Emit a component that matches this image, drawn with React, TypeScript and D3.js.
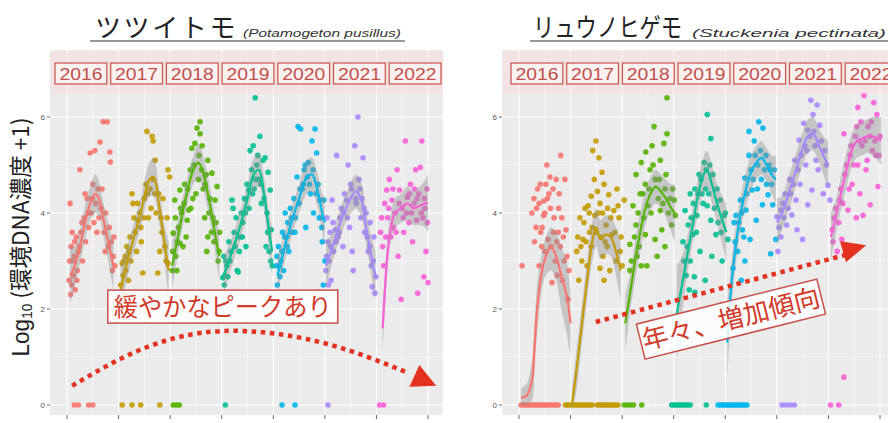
import React from 'react';
import * as d3 from 'd3';

const W = 888;
const H = 423;

const YEARS = [2016, 2017, 2018, 2019, 2020, 2021, 2022];
const YEAR_COLORS = ['#F8766D', '#C49A00', '#53B400', '#00C094', '#00B6EB', '#A58AFF', '#FB61D7'];
const X_TICKS = [2016, 2017, 2018, 2019, 2020, 2021, 2022, 2023];
const X_MINOR = [2016.5, 2017.5, 2018.5, 2019.5, 2020.5, 2021.5, 2022.5];
const Y_TICKS = [0, 2, 4, 6];
const Y_MINOR = [1, 3, 5, 7];

const TSU_TITLE = 'ツツイトモ';
const TSU_LATIN = '(Potamogeton pusillus)';
const RYU_TITLE = 'リュウノヒゲモ';
const RYU_LATIN = '(Stuckenia pectinata)';
const TSU_NOTE = '緩やかなピークあり';
const RYU_NOTE = '年々、増加傾向';

// [fraction of year, log10 value]
const tsuPoints = [
  [[0.04,2.6],[0.05,3.0],[0.06,4.2],[0.08,3.3],[0.09,2.5],[0.1,3.6],[0.12,2.7],[0.14,3.1],[0.16,2.4],[0.18,3.5],[0.2,2.8],[0.22,3.2],[0.25,4.9],[0.27,3.6],[0.3,3.0],[0.33,3.9],[0.36,3.4],[0.39,4.3],[0.42,3.7],[0.45,5.25],[0.47,4.0],[0.5,4.6],[0.52,3.8],[0.54,5.3],[0.56,4.2],[0.6,4.5],[0.62,3.9],[0.64,5.48],[0.66,4.1],[0.7,5.9],[0.72,3.6],[0.75,4.0],[0.78,5.9],[0.8,3.3],[0.83,5.27],[0.84,5.06],[0.86,3.4],[0.88,2.8],[0.9,3.1],[0.93,2.9],
   [0.07,2.3],[0.11,3.0],[0.15,3.4],[0.19,2.6],[0.24,3.3],[0.29,3.8],[0.35,4.4],[0.41,4.0],[0.49,4.3],[0.58,3.6],[0.68,4.5],[0.74,3.2],[0.82,3.7],[0.91,3.5]],
  [[0.04,2.5],[0.07,2.95],[0.09,2.7],[0.11,2.3],[0.13,3.1],[0.16,3.3],[0.19,2.6],[0.22,3.5],[0.26,4.4],[0.28,4.2],[0.32,3.6],[0.35,3.2],[0.38,3.85],[0.41,4.0],[0.44,3.4],[0.47,2.75],[0.5,4.3],[0.53,4.6],[0.55,5.7],[0.58,3.9],[0.61,4.5],[0.65,5.6],[0.67,5.5],[0.67,4.7],[0.71,5.1],[0.73,4.0],[0.76,2.75],[0.78,4.4],[0.8,3.2],[0.84,3.6],[0.86,4.3],[0.9,3.3],[0.94,3.9],[0.96,4.9],[0.96,2.95],[0.99,4.75],
   [0.05,2.2],[0.1,3.0],[0.14,2.8],[0.2,3.2],[0.24,3.0],[0.3,3.9],[0.37,4.2],[0.43,3.7],[0.49,3.9],[0.56,4.4],[0.63,4.1],[0.7,4.4],[0.82,3.9],[0.92,3.0]],
  [[0.04,2.8],[0.06,3.58],[0.09,4.27],[0.11,3.1],[0.13,2.8],[0.16,3.7],[0.19,4.48],[0.19,3.37],[0.22,4.0],[0.25,3.3],[0.28,4.6],[0.31,3.5],[0.33,3.85],[0.36,4.06],[0.39,4.9],[0.42,5.35],[0.44,4.3],[0.48,5.45],[0.52,5.77],[0.55,4.7],[0.58,5.9],[0.58,5.65],[0.62,5.4],[0.64,4.5],[0.67,3.9],[0.7,4.8],[0.71,3.2],[0.73,5.1],[0.73,3.5],[0.77,4.3],[0.81,4.83],[0.83,3.9],[0.85,3.4],[0.87,4.27],[0.91,4.55],[0.93,3.0],[0.96,3.6],
   [0.05,3.2],[0.1,3.9],[0.14,3.4],[0.2,4.1],[0.27,4.2],[0.34,4.5],[0.4,4.1],[0.46,5.0],[0.5,4.4],[0.56,5.2],[0.61,4.9],[0.68,4.6],[0.75,4.0],[0.8,3.6],[0.89,3.8],[0.95,3.2]],
  [[0.02,2.65],[0.04,3.1],[0.06,2.7],[0.1,2.9],[0.12,2.67],[0.14,3.4],[0.18,3.2],[0.2,4.27],[0.22,4.1],[0.24,3.6],[0.28,3.9],[0.3,2.8],[0.32,2.77],[0.35,3.5],[0.38,4.0],[0.41,3.8],[0.44,4.3],[0.47,3.3],[0.49,4.6],[0.52,4.48],[0.55,5.3],[0.58,4.9],[0.61,5.4],[0.63,4.5],[0.65,6.4],[0.68,5.0],[0.72,4.7],[0.74,5.6],[0.77,4.2],[0.8,5.1],[0.84,5.15],[0.86,3.3],[0.88,4.0],[0.9,4.85],[0.92,3.2],[0.94,4.48],[0.96,3.65],[0.98,2.9],
   [0.05,2.5],[0.08,3.0],[0.16,3.0],[0.26,3.3],[0.34,3.2],[0.4,3.5],[0.46,4.0],[0.53,4.1],[0.6,4.4],[0.66,4.7],[0.7,5.2],[0.76,4.6],[0.82,4.3],[0.89,3.6],[0.95,3.0]],
  [[0.06,2.9],[0.08,2.5],[0.1,3.3],[0.13,2.67],[0.15,3.0],[0.18,3.6],[0.2,2.8],[0.23,4.0],[0.26,3.5],[0.28,3.8],[0.3,3.2],[0.33,4.1],[0.36,3.6],[0.4,4.3],[0.43,3.9],[0.46,4.75],[0.48,5.8],[0.5,4.2],[0.53,5.75],[0.56,4.5],[0.6,4.9],[0.63,3.7],[0.66,4.75],[0.68,5.05],[0.72,4.4],[0.75,5.5],[0.78,4.0],[0.81,5.75],[0.84,5.25],[0.87,4.6],[0.9,4.27],[0.92,3.9],[0.95,3.4],[0.97,2.5],[0.98,4.27],[1.0,3.0],
   [0.07,3.1],[0.12,2.9],[0.17,3.2],[0.22,3.5],[0.27,3.3],[0.35,3.9],[0.42,3.6],[0.52,4.5],[0.58,4.6],[0.62,5.0],[0.7,4.6],[0.77,4.9],[0.83,4.4],[0.89,3.9],[0.94,3.7]],
  [[0.02,2.8],[0.04,3.9],[0.06,3.4],[0.08,3.0],[0.1,3.6],[0.12,2.6],[0.14,4.27],[0.17,3.2],[0.2,3.65],[0.23,5.2],[0.26,3.5],[0.29,3.9],[0.32,4.1],[0.35,3.3],[0.38,4.4],[0.42,4.27],[0.45,5.0],[0.48,3.7],[0.5,4.6],[0.53,3.2],[0.55,2.8],[0.58,5.4],[0.61,4.2],[0.64,6.0],[0.66,4.7],[0.7,3.9],[0.72,4.3],[0.74,5.15],[0.77,3.6],[0.8,4.0],[0.84,3.2],[0.87,3.3],[0.9,2.9],[0.92,2.46],[0.95,3.5],[0.97,2.33],[0.99,2.67],
   [0.03,3.1],[0.07,2.5],[0.11,3.3],[0.16,3.8],[0.22,3.4],[0.28,3.6],[0.36,4.0],[0.44,3.9],[0.52,4.5],[0.6,4.3],[0.68,4.5],[0.76,4.1],[0.82,3.5],[0.88,3.8],[0.94,3.0]],
  [[0.08,3.6],[0.12,3.3],[0.16,4.2],[0.2,4.48],[0.22,3.9],[0.25,4.7],[0.28,3.5],[0.3,4.27],[0.33,3.7],[0.36,4.0],[0.4,4.9],[0.42,3.1],[0.45,4.48],[0.48,2.2],[0.5,4.1],[0.53,3.6],[0.56,5.5],[0.6,4.33],[0.63,3.8],[0.66,4.6],[0.7,3.4],[0.73,4.2],[0.76,4.9],[0.78,3.85],[0.8,2.33],[0.82,4.4],[0.85,4.95],[0.88,5.5],[0.9,3.9],[0.92,2.67],[0.94,4.1],[0.96,3.2],[0.98,4.5],[1.0,2.55],
   [0.1,3.9],[0.14,2.9],[0.18,3.5],[0.24,4.1],[0.32,4.5],[0.38,3.6],[0.44,4.2],[0.52,3.9],[0.58,4.0],[0.64,4.4],[0.68,4.0],[0.74,4.5],[0.79,4.3],[0.87,4.0],[0.93,4.3],[0.99,3.8]],
];
const tsuZeros = [
  [0.14, 0.22, 0.42, 0.5],
  [0.07, 0.26, 0.43, 0.8],
  [0.06, 0.12, 0.18],
  [0.07],
  [0.17, 0.42],
  [0.06],
  [0.06, 0.14],
];
// [fraction, fit, lower, upper]
const tsuFits = [
  [[0.06,2.7,2.1,3.3],[0.15,2.9,2.5,3.3],[0.25,3.3,2.95,3.65],[0.35,3.8,3.45,4.15],[0.45,4.2,3.85,4.55],[0.55,4.4,4.0,4.8],[0.62,4.3,3.95,4.65],[0.7,3.9,3.55,4.25],[0.8,3.4,3.0,3.8],[0.9,2.9,2.4,3.4]],
  [[0.04,2.4,1.9,2.9],[0.15,2.9,2.55,3.25],[0.3,3.5,3.2,3.8],[0.45,4.1,3.8,4.4],[0.6,4.7,4.35,5.05],[0.68,4.75,4.35,5.15],[0.78,4.2,3.85,4.55],[0.9,3.3,2.9,3.7],[0.97,2.8,2.2,3.4]],
  [[0.04,2.9,2.4,3.4],[0.15,3.5,3.15,3.85],[0.3,4.3,4.0,4.6],[0.45,4.9,4.6,5.2],[0.55,5.05,4.7,5.45],[0.65,4.8,4.45,5.15],[0.75,4.3,3.95,4.65],[0.85,3.7,3.35,4.05],[0.95,3.1,2.6,3.6]],
  [[0.04,2.7,2.3,3.1],[0.2,3.2,2.9,3.5],[0.35,3.7,3.4,4.0],[0.5,4.3,4.0,4.6],[0.62,4.8,4.45,5.15],[0.72,4.9,4.55,5.25],[0.82,4.4,4.05,4.75],[0.92,3.6,3.2,4.0],[0.98,3.2,2.7,3.7]],
  [[0.08,2.7,2.3,3.1],[0.2,3.2,2.9,3.5],[0.35,3.8,3.5,4.1],[0.5,4.3,4.0,4.6],[0.65,4.75,4.4,5.1],[0.75,4.8,4.45,5.15],[0.85,4.5,4.15,4.85],[0.95,4.0,3.6,4.4],[1.0,3.8,3.3,4.3]],
  [[0.02,2.9,2.4,3.4],[0.15,3.3,3.0,3.6],[0.3,3.8,3.5,4.1],[0.45,4.2,3.9,4.5],[0.6,4.45,4.1,4.8],[0.7,4.3,3.95,4.65],[0.8,3.7,3.35,4.05],[0.9,3.1,2.7,3.5],[0.98,2.7,2.2,3.2]],
  [[0.12,1.6,1.1,2.1],[0.16,2.3,1.9,2.7],[0.21,3.1,2.75,3.45],[0.28,3.7,3.4,4.0],[0.36,4.0,3.7,4.3],[0.48,4.1,3.8,4.4],[0.6,4.2,3.85,4.55],[0.72,4.1,3.75,4.45],[0.84,4.15,3.75,4.55],[0.95,4.2,3.7,4.7],[1.0,4.2,3.6,4.8]],
];

const ryuPoints = [
  [[0.06,2.9],[0.25,4.0],[0.29,4.3],[0.33,3.7],[0.36,4.5],[0.39,4.2],[0.39,2.9],[0.42,3.6],[0.45,3.7],[0.48,4.25],[0.48,3.95],[0.5,3.2],[0.52,4.6],[0.54,5.0],[0.56,3.45],[0.58,4.4],[0.6,4.75],[0.62,3.3],[0.64,2.55],[0.66,4.5],[0.68,3.9],[0.7,3.0],[0.72,4.7],[0.74,2.7],[0.76,3.6],[0.78,4.4],[0.8,3.3],[0.81,5.2],[0.84,2.6],[0.86,3.5],[0.89,4.7],[0.91,3.65],[0.93,3.1],[0.95,2.2],[0.97,2.8],
   [0.3,3.4],[0.34,4.1],[0.41,4.6],[0.44,3.3],[0.5,4.0],[0.55,4.3],[0.61,4.1],[0.67,3.6],[0.73,3.4],[0.77,4.1],[0.83,3.9],[0.88,3.0]],
  [[0.12,3.2],[0.16,2.6],[0.18,3.9],[0.22,3.0],[0.24,3.45],[0.28,4.1],[0.32,2.9],[0.34,4.15],[0.37,3.6],[0.4,4.35],[0.4,3.3],[0.43,5.3],[0.46,4.7],[0.47,3.95],[0.49,5.5],[0.52,4.45],[0.55,5.15],[0.57,4.2],[0.57,2.85],[0.6,3.5],[0.61,4.85],[0.63,3.1],[0.65,4.6],[0.65,2.6],[0.69,3.75],[0.72,4.1],[0.74,4.38],[0.76,2.8],[0.8,3.55],[0.84,4.05],[0.88,3.0],[0.9,4.5],[0.92,4.15],[0.94,3.9],[0.96,3.2],[1.0,2.9],[1.04,4.27],
   [0.14,3.5],[0.2,3.3],[0.26,3.8],[0.3,3.4],[0.36,4.0],[0.42,3.7],[0.5,3.6],[0.54,4.0],[0.62,4.0],[0.67,3.4],[0.71,3.3],[0.78,3.9],[0.86,3.6],[0.98,3.5]],
  [[0.15,3.35],[0.15,2.8],[0.21,4.15],[0.27,4.8],[0.27,3.75],[0.29,3.1],[0.35,4.4],[0.37,5.05],[0.37,2.9],[0.45,4.6],[0.45,3.55],[0.46,5.27],[0.48,2.9],[0.5,4.15],[0.54,4.9],[0.58,5.4],[0.62,5.8],[0.64,4.7],[0.64,3.45],[0.68,3.1],[0.74,5.1],[0.74,4.05],[0.77,3.65],[0.81,5.45],[0.83,4.5],[0.83,3.3],[0.87,6.4],[0.87,5.65],[0.93,4.3],[0.96,3.75],[1.01,4.27],[1.03,3.95],
   [0.18,3.0],[0.24,3.5],[0.31,4.0],[0.33,3.3],[0.4,4.4],[0.42,3.9],[0.52,4.5],[0.56,4.0],[0.6,5.0],[0.7,4.3],[0.72,4.7],[0.79,4.2],[0.85,4.8],[0.9,4.0],[0.98,4.5]],
  [[0.18,3.4],[0.22,4.05],[0.24,2.7],[0.28,3.75],[0.3,2.4],[0.32,4.4],[0.32,3.0],[0.37,3.55],[0.4,2.67],[0.41,4.5],[0.41,2.35],[0.45,3.95],[0.49,4.8],[0.51,3.2],[0.55,4.4],[0.59,5.05],[0.61,2.6],[0.63,4.9],[0.65,6.05],[0.65,4.15],[0.72,5.55],[0.72,3.85],[0.74,3.1],[0.76,4.8],[0.82,3.55],[0.84,4.5],[0.9,4.27],[0.94,3.0],[0.98,3.95],[1.05,3.45],
   [0.2,3.0],[0.26,3.3],[0.34,3.9],[0.38,4.2],[0.44,3.6],[0.47,4.4],[0.53,4.7],[0.57,4.2],[0.62,4.5],[0.68,4.4],[0.7,5.0],[0.79,4.1],[0.86,3.8],[0.92,3.6],[1.0,4.0]],
  [[0.15,2.85],[0.17,3.8],[0.21,3.95],[0.24,3.2],[0.29,4.27],[0.31,2.6],[0.33,3.65],[0.38,4.73],[0.38,3.0],[0.4,4.06],[0.46,5.7],[0.46,5.2],[0.48,3.45],[0.52,4.48],[0.56,5.5],[0.6,3.85],[0.63,5.0],[0.65,5.9],[0.7,4.7],[0.72,4.17],[0.73,5.77],[0.79,5.2],[0.83,4.38],[0.87,4.9],[0.88,3.15],[0.92,4.17],[0.98,3.45],
   [0.19,3.4],[0.26,3.8],[0.32,4.0],[0.36,3.5],[0.42,4.4],[0.5,4.9],[0.54,4.7],[0.58,5.2],[0.62,4.5],[0.68,5.3],[0.76,4.9],[0.8,4.6],[0.85,5.0],[0.9,4.6],[0.95,4.9]],
  [[0.0,3.92],[0.02,3.2],[0.08,4.06],[0.08,3.5],[0.16,4.4],[0.19,3.75],[0.25,4.7],[0.29,3.96],[0.35,5.1],[0.37,4.27],[0.39,3.65],[0.43,5.52],[0.45,4.6],[0.5,3.45],[0.52,5.87],[0.56,5.0],[0.6,5.73],[0.6,4.17],[0.66,6.35],[0.68,4.48],[0.7,6.05],[0.74,5.4],[0.78,6.25],[0.8,4.9],[0.83,5.83],[0.9,4.4],[0.93,5.3],[0.99,4.58],[1.03,4.27],
   [0.04,3.7],[0.12,4.2],[0.14,3.9],[0.22,4.1],[0.27,4.4],[0.32,4.6],[0.41,4.9],[0.47,5.2],[0.54,5.4],[0.58,5.3],[0.64,5.6],[0.72,5.7],[0.76,5.1],[0.86,5.5],[0.96,5.0]],
  [[0.07,3.65],[0.11,3.9],[0.17,3.2],[0.22,4.27],[0.26,3.45],[0.3,5.65],[0.3,0.58],[0.32,4.8],[0.38,4.06],[0.42,5.2],[0.46,4.6],[0.52,5.6],[0.54,3.9],[0.57,6.2],[0.57,5.0],[0.61,4.4],[0.65,5.4],[0.67,3.95],[0.69,6.45],[0.73,4.9],[0.77,5.8],[0.81,4.17],[0.85,5.3],[0.88,6.3],[0.92,5.2],[0.94,6.05],[0.96,4.55],[1.0,5.6],
   [0.09,3.4],[0.14,4.1],[0.2,3.8],[0.24,4.5],[0.28,4.2],[0.35,5.0],[0.4,4.5],[0.44,5.4],[0.49,5.0],[0.55,5.8],[0.6,5.5],[0.63,5.9],[0.71,5.5],[0.75,5.1],[0.8,5.6],[0.83,5.9],[0.9,5.5],[0.98,5.2]],
];
const ryuZeros = [
  [0.04, 0.08, 0.12, 0.16, 0.2, 0.24, 0.28, 0.32, 0.36, 0.4, 0.44, 0.48, 0.52, 0.56, 0.6, 0.64, 0.68, 0.72, 0.76],
  [-0.1, -0.06, -0.02, 0.02, 0.06, 0.1, 0.14, 0.18, 0.22, 0.26, 0.3, 0.34, 0.38, 0.42, 0.52, 0.56, 0.6, 0.64, 0.68, 0.72, 0.76, 0.8, 0.84, 0.88, 0.92],
  [0.04, 0.1, 0.16, 0.22, 0.38],
  [-0.04, 0.0, 0.04, 0.08, 0.12, 0.16, 0.2, 0.24, 0.28, 0.32, 0.63],
  [-0.14, -0.1, -0.06, -0.02, 0.02, 0.06, 0.1, 0.14, 0.18, 0.22, 0.26, 0.3, 0.34, 0.38, 0.42],
  [0.1, 0.18, 0.26, 0.34],
  [0.04, 0.2],
];
const ryuFits = [
  [[0.04,0.15,0.0,0.35],[0.15,0.2,0.0,0.45],[0.25,0.5,0.1,0.9],[0.3,1.2,0.7,1.7],[0.36,2.1,1.6,2.6],[0.43,2.7,2.3,3.1],[0.52,3.1,2.7,3.5],[0.62,3.3,2.8,3.7],[0.72,3.1,2.6,3.6],[0.82,2.7,2.0,3.3],[0.92,2.3,1.5,3.0],[1.0,1.7,1.0,2.4]],
  [[0.03,0.05,-0.1,0.3],[0.1,0.6,0.2,1.0],[0.2,1.5,1.1,1.9],[0.32,2.6,2.2,3.0],[0.42,3.4,3.0,3.8],[0.5,3.7,3.3,4.1],[0.58,3.45,3.05,3.85],[0.68,3.55,3.15,3.95],[0.78,3.5,3.1,3.9],[0.88,3.2,2.7,3.7],[0.97,2.8,2.2,3.4]],
  [[0.06,1.7,1.1,2.3],[0.15,2.3,1.9,2.7],[0.25,3.0,2.6,3.4],[0.35,3.6,3.2,4.0],[0.45,4.1,3.75,4.45],[0.55,4.4,4.05,4.75],[0.65,4.55,4.2,4.9],[0.75,4.45,4.1,4.8],[0.85,4.3,3.9,4.7],[0.95,4.1,3.6,4.6],[1.02,4.0,3.4,4.6]],
  [[0.06,1.9,0.9,2.9],[0.16,2.5,1.9,3.1],[0.26,3.1,2.7,3.5],[0.36,3.7,3.35,4.05],[0.46,4.3,3.95,4.65],[0.56,4.75,4.4,5.1],[0.64,4.9,4.55,5.3],[0.74,4.6,4.2,5.0],[0.84,4.2,3.8,4.6],[0.94,3.85,3.35,4.35],[1.02,3.6,3.0,4.2]],
  [[0.04,1.3,0.5,2.1],[0.11,2.4,1.9,2.9],[0.2,3.3,2.9,3.7],[0.3,4.0,3.65,4.35],[0.4,4.5,4.15,4.85],[0.5,4.85,4.5,5.2],[0.6,5.05,4.7,5.4],[0.7,5.15,4.8,5.5],[0.8,5.0,4.65,5.35],[0.9,4.8,4.4,5.2],[0.98,4.7,4.2,5.2]],
  [[0.0,3.8,3.3,4.3],[0.1,4.0,3.65,4.35],[0.2,4.3,3.95,4.65],[0.3,4.65,4.3,5.0],[0.4,5.0,4.65,5.35],[0.5,5.35,5.0,5.7],[0.6,5.6,5.25,5.95],[0.7,5.65,5.3,6.0],[0.8,5.45,5.1,5.8],[0.9,5.2,4.8,5.6],[1.0,5.0,4.5,5.5]],
  [[0.05,3.5,3.0,4.0],[0.15,3.95,3.6,4.3],[0.25,4.45,4.1,4.8],[0.35,4.9,4.55,5.25],[0.45,5.3,4.95,5.65],[0.55,5.5,5.15,5.85],[0.65,5.55,5.2,5.9],[0.75,5.6,5.25,5.95],[0.85,5.6,5.2,6.0],[0.95,5.55,5.1,6.0],[1.02,5.5,5.0,6.0]],
];

// annotation anchor points, in data units [year, value]
const tsuArrow = [[2016.1, 0.4], [2017.42, 1.15], [2019.0, 1.54], [2020.91, 1.31], [2022.61, 0.67]];
const tsuArrowTip = [2023.16, 0.4];
const tsuNoteCenter = [2019.02, 2.05];
const ryuArrow = [[2017.49, 1.73], [2022.34, 3.13]];
const ryuArrowTip = [2022.73, 3.33];
const ryuNoteCenter = [2020.11, 1.79];

const JP = '"Noto Sans CJK JP", "Noto Sans", sans-serif';
const SANS = '"Liberation Sans", Arial, sans-serif';
const RED = '#e5321f';

function arrowHead(tip: [number, number], from: [number, number], len: number, half: number) {
  const dx = tip[0] - from[0];
  const dy = tip[1] - from[1];
  const L = Math.hypot(dx, dy);
  const ux = dx / L, uy = dy / L;
  const bx = tip[0] - ux * len, by = tip[1] - uy * len;
  return `M${tip[0]},${tip[1]}L${bx - uy * half},${by + ux * half}L${bx + uy * half},${by - ux * half}Z`;
}

type PanelProps = {
  dx: number;
  boxStart: number;
  title: string;
  latin: string;
  titleX: number;
  titleScale: number;
  titleSpacing: number;
  latinX: number;
  latinLen: number;
  underline: [number, number];
  points: number[][][];
  zeros: number[][];
  fits: number[][][];
  children?: (x: d3.ScaleLinear<number, number>, y: d3.ScaleLinear<number, number>) => React.ReactNode;
};

function Panel(p: PanelProps) {
  const left = p.dx + 50;
  const right = p.dx + 443;
  const top = 50;
  const bottom = 415;
  const x = d3.scaleLinear().domain([2016, 2023]).range([p.dx + 67, p.dx + 428]);
  const y = d3.scaleLinear().domain([0, 6]).range([405, 117]);
  const band = d3.scaleBand<number>().domain(YEARS).range([p.boxStart, p.boxStart + 386]).paddingInner(0.07);

  return (
    <g>
      <rect x={left} y={top} width={right - left} height={bottom - top} fill="#EBEBEB" />
      {Y_MINOR.map((v) => (
        <line key={'ym' + v} x1={left} x2={right} y1={y(v)} y2={y(v)} stroke="#fff" strokeWidth={0.55} />
      ))}
      {X_MINOR.map((v) => (
        <line key={'xm' + v} x1={x(v)} x2={x(v)} y1={top} y2={bottom} stroke="#fff" strokeWidth={0.55} />
      ))}
      {Y_TICKS.map((v) => (
        <line key={'yg' + v} x1={left} x2={right} y1={y(v)} y2={y(v)} stroke="#fff" strokeWidth={1.1} />
      ))}
      {X_TICKS.map((v) => (
        <line key={'xg' + v} x1={x(v)} x2={x(v)} y1={top} y2={bottom} stroke="#fff" strokeWidth={1.1} />
      ))}
      {Y_TICKS.map((v) => (
        <g key={'yt' + v}>
          <line x1={left - 3} x2={left} y1={y(v)} y2={y(v)} stroke="#555" strokeWidth={0.9} />
          <text x={left - 5} y={y(v)} dy="0.35em" textAnchor="end" fontSize={8} fill="#555" fontFamily={SANS}>{v}</text>
        </g>
      ))}
      {X_TICKS.map((v) => (
        <line key={'xt' + v} x1={x(v)} x2={x(v)} y1={bottom} y2={bottom + 4} stroke="#555" strokeWidth={0.9} />
      ))}
      {YEARS.map((yr, i) => (
        <g key={'pts' + yr} fill={YEAR_COLORS[i]}>
          {p.points[i].map((d, j) => (
            <circle key={j} cx={x(yr + d[0])} cy={y(d[1])} r={2.8} fillOpacity={0.9} />
          ))}
          {p.zeros[i].map((f, j) => (
            <circle key={'z' + j} cx={x(yr + f)} cy={y(0)} r={2.8} fillOpacity={0.9} />
          ))}
        </g>
      ))}
      {YEARS.map((yr, i) => {
        const area = d3
          .area<number[]>()
          .x((d) => x(yr + d[0]))
          .y0((d) => y(d[2]))
          .y1((d) => y(d[3]))
          .curve(d3.curveCatmullRom);
        const line = d3
          .line<number[]>()
          .x((d) => x(yr + d[0]))
          .y((d) => y(d[1]))
          .curve(d3.curveCatmullRom);
        return (
          <g key={'fit' + yr}>
            <path d={area(p.fits[i]) || ''} fill="#8c8c8c" fillOpacity={0.4} />
            <path d={line(p.fits[i]) || ''} fill="none" stroke={YEAR_COLORS[i]} strokeWidth={2.2} />
          </g>
        );
      })}
      <rect x={left} y={52} width={right - left} height={42} fill="#ffd6d6" fillOpacity={0.35} />
      {YEARS.map((yr) => (
        <g key={'box' + yr}>
          <rect x={band(yr)} y={63} width={band.bandwidth()} height={21} fill="#fff6f6" fillOpacity={0.75} stroke="#cc5a55" strokeWidth={1.3} />
          <text x={(band(yr) || 0) + band.bandwidth() / 2} y={79.5} textAnchor="middle" fontSize={16} fill="#c0504a" fontFamily={SANS} textLength={43} lengthAdjust="spacingAndGlyphs">{yr}</text>
        </g>
      ))}
      <text transform={`translate(${p.titleX},37) scale(${p.titleScale},1)`} fontSize={26} fill="#222" fontFamily={JP} letterSpacing={p.titleSpacing}>{p.title}</text>
      <text x={p.latinX} y={37} fontSize={11} fontStyle="italic" fill="#333" fontFamily={SANS} textLength={p.latinLen} lengthAdjust="spacingAndGlyphs">{p.latin}</text>
      <line x1={p.underline[0]} x2={p.underline[1]} y1={41} y2={41} stroke="#333" strokeWidth={1.2} />
      {p.children ? p.children(x, y) : null}
    </g>
  );
}

export default function App() {
  return (
    <svg width={W} height={H} viewBox={`0 0 ${W} ${H}`} style={{ position: 'absolute', left: 0, top: 0, background: '#fff' }}>
      <rect width={W} height={H} fill="#fff" />
      <Panel
        dx={0}
        boxStart={55}
        title={TSU_TITLE}
        latin={TSU_LATIN}
        titleX={95}
        titleScale={1}
        titleSpacing={2.6}
        latinX={243}
        latinLen={158}
        underline={[90, 405]}
        points={tsuPoints}
        zeros={tsuZeros}
        fits={tsuFits}
      >
        {(x, y) => {
          const pts = tsuArrow.map((d) => [x(d[0]), y(d[1])] as [number, number]);
          const curve = d3.line().curve(d3.curveNatural)(pts) || '';
          const tip: [number, number] = [x(tsuArrowTip[0]), y(tsuArrowTip[1])];
          const last = pts[pts.length - 1];
          const cx = x(tsuNoteCenter[0]);
          const cy = y(tsuNoteCenter[1]);
          return (
            <g>
              <path d={curve} fill="none" stroke={RED} strokeWidth={4.5} strokeDasharray="4.5 4.6" />
              <path d={arrowHead(tip, last, 24, 12)} fill={RED} />
              <rect x={cx - 115} y={cy - 16.5} width={230} height={33} fill="#fff" fillOpacity={0.85} stroke="#c9504a" strokeWidth={1.5} />
              <text x={cx} y={cy + 9} textAnchor="middle" fontSize={25} fill="#d23a2a" fontFamily={JP} textLength={218} lengthAdjust="spacingAndGlyphs">{TSU_NOTE}</text>
            </g>
          );
        }}
      </Panel>
      <Panel
        dx={452}
        boxStart={511}
        title={RYU_TITLE}
        latin={RYU_LATIN}
        titleX={533}
        titleScale={0.82}
        titleSpacing={0}
        latinX={692}
        latinLen={194}
        underline={[530, 890]}
        points={ryuPoints}
        zeros={ryuZeros}
        fits={ryuFits}
      >
        {(x, y) => {
          const pts = ryuArrow.map((d) => [x(d[0]), y(d[1])] as [number, number]);
          const seg = d3.line()(pts) || '';
          const tip: [number, number] = [x(ryuArrowTip[0]), y(ryuArrowTip[1])];
          const cx = x(ryuNoteCenter[0]);
          const cy = y(ryuNoteCenter[1]);
          return (
            <g>
              <path d={seg} fill="none" stroke={RED} strokeWidth={4.5} strokeDasharray="4.5 4.6" />
              <path d={arrowHead(tip, pts[0], 24, 11)} fill={RED} />
              <g transform={`translate(${cx},${cy}) rotate(-14)`}>
                <rect x={-93} y={-18} width={186} height={36} fill="#fff" fillOpacity={0.85} stroke="#c9504a" strokeWidth={1.5} />
                <text x={0} y={9} textAnchor="middle" fontSize={26} fill="#d23a2a" fontFamily={JP}>{RYU_NOTE}</text>
              </g>
            </g>
          );
        }}
      </Panel>
      <text transform="translate(29,237) scale(1.15,1) rotate(-90)" textAnchor="middle" fontSize={20} fill="#222" fontFamily={JP} textLength={239} lengthAdjust="spacingAndGlyphs">
        <tspan fontFamily={SANS}>Log</tspan>
        <tspan fontFamily={SANS} fontSize={12} dy={3}>10</tspan>
        <tspan dy={-3}> (環境DNA濃度 +1)</tspan>
      </text>
    </svg>
  );
}
